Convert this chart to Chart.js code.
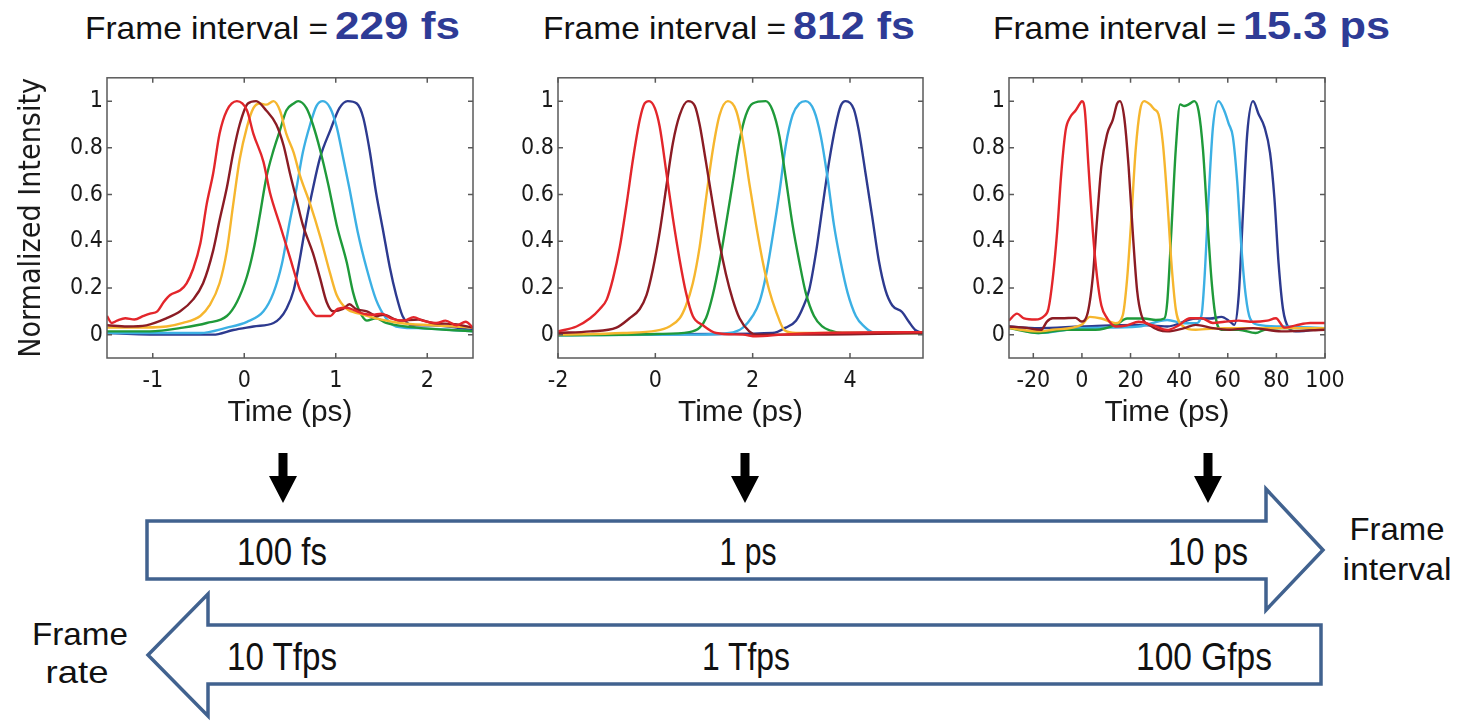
<!DOCTYPE html>
<html lang="en">
<head>
<meta charset="UTF-8">
<title>Frame interval</title>
<script src="https://cdn.jsdelivr.net/npm/chart.js"></script>
<style>
  body { margin: 0; background: #fff; }
  #wrap { position: relative; width: 1475px; height: 721px; overflow: hidden; }
  #wrap svg { position: absolute; left: 0; top: 0; }
  canvas { position: absolute; top: 60px; }
</style>
</head>
<body>
<div id="wrap">
  <svg width="1475" height="721" font-family="'Liberation Sans', Arial, sans-serif" fill="#111">
    <!-- panel titles -->
    <text x="85" y="39" font-size="32" textLength="243" lengthAdjust="spacingAndGlyphs">Frame interval =</text>
    <text x="335" y="39" font-size="38" font-weight="bold" fill="#2e3b96" textLength="125" lengthAdjust="spacingAndGlyphs">229 fs</text>
    <text x="543" y="39" font-size="32" textLength="243" lengthAdjust="spacingAndGlyphs">Frame interval =</text>
    <text x="793" y="39" font-size="38" font-weight="bold" fill="#2e3b96" textLength="122" lengthAdjust="spacingAndGlyphs">812 fs</text>
    <text x="993" y="39" font-size="32" textLength="243" lengthAdjust="spacingAndGlyphs">Frame interval =</text>
    <text x="1243" y="39" font-size="38" font-weight="bold" fill="#2e3b96" textLength="147" lengthAdjust="spacingAndGlyphs">15.3 ps</text>

    <!-- small down arrows -->
    <polygon points="278.5,453 287.5,453 287.5,476 297,476 283,503 269,476 278.5,476" fill="#000"/>
    <polygon points="740.5,453 749.5,453 749.5,476 759,476 745,503 731,476 740.5,476" fill="#000"/>
    <polygon points="1203.5,453 1212.5,453 1212.5,476 1222,476 1208,503 1194,476 1203.5,476" fill="#000"/>

    <!-- frame interval arrow -->
    <polygon points="147,521 1266,521 1266,489 1323,550 1266,610 1266,579 147,579" fill="#fff" stroke="#41628f" stroke-width="3.5" stroke-linejoin="miter"/>
    <!-- frame rate arrow -->
    <polygon points="1321,625 208,625 208,594 148,655 208,716 208,684 1321,684" fill="#fff" stroke="#41628f" stroke-width="3.5" stroke-linejoin="miter"/>

    <g font-size="38" text-anchor="middle">
      <text x="282" y="565" textLength="90" lengthAdjust="spacingAndGlyphs">100 fs</text>
      <text x="748" y="565" textLength="57" lengthAdjust="spacingAndGlyphs">1 ps</text>
      <text x="1208" y="565" textLength="80" lengthAdjust="spacingAndGlyphs">10 ps</text>
      <text x="282" y="670" textLength="110" lengthAdjust="spacingAndGlyphs">10 Tfps</text>
      <text x="746" y="670" textLength="88" lengthAdjust="spacingAndGlyphs">1 Tfps</text>
      <text x="1204" y="670" textLength="136" lengthAdjust="spacingAndGlyphs">100 Gfps</text>
    </g>
    <g font-size="32" text-anchor="middle">
      <text x="1397" y="540" textLength="95" lengthAdjust="spacingAndGlyphs">Frame</text>
      <text x="1397" y="580" textLength="109" lengthAdjust="spacingAndGlyphs">interval</text>
      <text x="80" y="645" textLength="96" lengthAdjust="spacingAndGlyphs">Frame</text>
      <text x="77" y="683" textLength="63" lengthAdjust="spacingAndGlyphs">rate</text>
    </g>
  </svg>
  <canvas id="c1" width="490" height="380" style="left:0"></canvas>
  <canvas id="c2" width="460" height="380" style="left:490px"></canvas>
  <canvas id="c3" width="475" height="380" style="left:950px"></canvas>
</div>

<script>
// tick labels
const yTicks = [0, 0.2, 0.4, 0.6, 0.8, 1];
const p1XTicks = [-1, 0, 1, 2];
const p2XTicks = [-2, 0, 2, 4];
const p3XTicks = [-20, 0, 20, 40, 60, 80, 100];

// panel 1 : 229 fs  -- [time ps, normalized intensity]
const p1Red = [[-1.5,0.08],[-1.45,0.05],[-1.39,0.06],[-1.3,0.07],[-1.2,0.065],[-1.1,0.08],[-1.03,0.09],[-0.95,0.1],[-0.88,0.14],[-0.81,0.17],[-0.70,0.19],[-0.63,0.22],[-0.56,0.28],[-0.48,0.39],[-0.41,0.56],[-0.34,0.69],[-0.27,0.86],[-0.19,0.96],[-0.08,1.0],[0.03,0.96],[0.10,0.86],[0.21,0.74],[0.28,0.61],[0.39,0.47],[0.50,0.33],[0.61,0.19],[0.72,0.11],[0.79,0.08],[0.94,0.08],[1.02,0.11],[1.12,0.115],[1.2,0.105],[1.3,0.09],[1.4,0.085],[1.5,0.09],[1.6,0.07],[1.75,0.06],[1.85,0.075],[1.95,0.06],[2.1,0.05],[2.2,0.06],[2.32,0.04],[2.42,0.055],[2.5,0.03]];
const p1DarkRed = [[-1.5,0.04],[-1.28,0.035],[-1.07,0.04],[-0.85,0.07],[-0.70,0.10],[-0.56,0.15],[-0.45,0.22],[-0.34,0.36],[-0.27,0.49],[-0.19,0.63],[-0.12,0.78],[-0.05,0.90],[0.04,0.99],[0.13,1.0],[0.24,0.96],[0.35,0.90],[0.43,0.81],[0.50,0.69],[0.57,0.58],[0.64,0.47],[0.75,0.35],[0.83,0.24],[0.90,0.14],[0.97,0.10],[1.08,0.11],[1.15,0.13],[1.22,0.11],[1.34,0.10],[1.45,0.08],[1.52,0.085],[1.70,0.06],[1.9,0.065],[2.06,0.05],[2.3,0.045],[2.5,0.03]];
const p1Orange = [[-1.5,0.03],[-1.21,0.03],[-0.85,0.035],[-0.67,0.05],[-0.48,0.08],[-0.38,0.125],[-0.27,0.22],[-0.19,0.36],[-0.12,0.56],[-0.05,0.75],[0.03,0.89],[0.10,0.97],[0.17,0.99],[0.24,0.985],[0.32,1.0],[0.39,0.96],[0.46,0.86],[0.54,0.78],[0.61,0.68],[0.72,0.56],[0.83,0.42],[0.94,0.26],[1.01,0.17],[1.12,0.11],[1.26,0.09],[1.44,0.07],[1.70,0.05],[2.06,0.04],[2.5,0.03]];
const p1Green = [[-1.5,0.014],[-1.03,0.014],[-0.67,0.03],[-0.41,0.05],[-0.19,0.08],[-0.08,0.14],[0.03,0.25],[0.10,0.36],[0.17,0.51],[0.24,0.67],[0.32,0.79],[0.39,0.875],[0.46,0.96],[0.54,0.99],[0.59,1.0],[0.68,0.97],[0.75,0.90],[0.83,0.79],[0.92,0.64],[1.01,0.47],[1.12,0.31],[1.19,0.18],[1.26,0.10],[1.34,0.06],[1.44,0.07],[1.55,0.05],[1.88,0.03],[2.5,0.014]];
const p1LightBlue = [[-1.5,0.007],[-0.85,0.007],[-0.48,0.007],[-0.19,0.03],[0.03,0.055],[0.21,0.10],[0.32,0.18],[0.41,0.30],[0.50,0.49],[0.57,0.625],[0.64,0.78],[0.72,0.90],[0.79,0.98],[0.86,1.0],[0.94,0.97],[1.01,0.89],[1.08,0.76],[1.15,0.625],[1.24,0.44],[1.34,0.28],[1.44,0.15],[1.55,0.07],[1.66,0.035],[1.88,0.028],[2.24,0.021],[2.5,0.014]];
const p1DarkBlue = [[-1.5,0.007],[-0.85,0],[-0.34,0],[-0.12,0.02],[0.10,0.035],[0.32,0.05],[0.39,0.07],[0.46,0.11],[0.54,0.19],[0.61,0.33],[0.68,0.49],[0.75,0.625],[0.83,0.76],[0.94,0.875],[1.04,0.97],[1.13,1.0],[1.23,0.99],[1.30,0.93],[1.37,0.79],[1.44,0.61],[1.52,0.44],[1.59,0.29],[1.66,0.17],[1.73,0.08],[1.84,0.04],[2.06,0.04],[2.5,0.02]];

// panel 2 : 812 fs
const p2Red = [[-2,0.014],[-1.62,0.035],[-1.34,0.07],[-1.14,0.11],[-1.0,0.15],[-0.87,0.24],[-0.73,0.375],[-0.59,0.56],[-0.46,0.75],[-0.32,0.92],[-0.22,0.99],[-0.13,1.0],[-0.01,0.97],[0.09,0.89],[0.23,0.69],[0.36,0.50],[0.50,0.32],[0.63,0.18],[0.77,0.08],[0.98,0.04],[1.25,0.007],[1.80,0],[2.07,-0.007],[2.61,0],[3.43,0.007],[5.5,0.011]];
const p2DarkRed = [[-2,0.007],[-1.34,0.014],[-0.80,0.03],[-0.53,0.07],[-0.32,0.11],[-0.18,0.17],[-0.05,0.28],[0.09,0.44],[0.23,0.64],[0.36,0.82],[0.50,0.94],[0.67,1.0],[0.81,0.98],[0.91,0.90],[1.04,0.74],[1.18,0.56],[1.32,0.39],[1.45,0.26],[1.59,0.15],[1.73,0.07],[1.93,0.014],[2.07,0],[2.75,0],[5.5,0.007]];
const p2Orange = [[-2,0],[-0.66,0.007],[0.02,0.017],[0.29,0.035],[0.50,0.07],[0.63,0.125],[0.77,0.22],[0.91,0.375],[1.04,0.58],[1.18,0.79],[1.32,0.94],[1.49,1.0],[1.66,0.96],[1.80,0.83],[1.93,0.65],[2.07,0.47],[2.20,0.32],[2.34,0.19],[2.48,0.10],[2.65,0.02],[2.89,0.007],[5.5,0.007]];
const p2Green = [[-2,-0.003],[0.02,0.003],[0.70,0.011],[0.91,0.03],[1.04,0.07],[1.18,0.17],[1.32,0.31],[1.45,0.47],[1.59,0.65],[1.73,0.83],[1.86,0.94],[2.0,0.99],[2.27,1.0],[2.41,0.96],[2.55,0.85],[2.68,0.67],[2.82,0.47],[2.96,0.31],[3.09,0.18],[3.26,0.08],[3.43,0.035],[3.60,0.017],[3.84,0.007],[5.5,0.007]];
const p2LightBlue = [[-2,-0.003],[0.70,0],[1.52,0.007],[1.80,0.03],[2.0,0.08],[2.14,0.14],[2.27,0.25],[2.41,0.42],[2.55,0.61],[2.68,0.81],[2.82,0.94],[2.96,0.99],[3.09,1.0],[3.26,0.96],[3.40,0.85],[3.54,0.67],[3.67,0.47],[3.81,0.31],[3.95,0.18],[4.12,0.08],[4.29,0.035],[4.46,0.011],[4.80,0.007],[5.5,0.007]];
const p2DarkBlue = [[-2,0],[1.38,0.003],[2.41,0.007],[2.68,0.03],[2.89,0.06],[3.02,0.11],[3.16,0.19],[3.30,0.35],[3.43,0.54],[3.57,0.74],[3.71,0.90],[3.81,0.98],[3.91,1.0],[4.08,0.965],[4.18,0.875],[4.32,0.69],[4.46,0.50],[4.59,0.32],[4.73,0.19],[4.87,0.125],[5.07,0.097],[5.21,0.055],[5.34,0.02],[5.48,0.007]];

// panel 3 : 15.3 ps
const p3Red = [[-30,0.06],[-26.7,0.09],[-23.8,0.07],[-19.1,0.065],[-15.5,0.08],[-13.8,0.11],[-12.0,0.24],[-10.2,0.44],[-8.5,0.69],[-6.7,0.875],[-4.9,0.93],[-2.6,0.96],[-0.8,0.99],[0,1.0],[1.2,0.96],[2.7,0.72],[4.5,0.44],[6.2,0.25],[8.0,0.125],[10.4,0.07],[13.9,0.035],[18.6,0.04],[23.3,0.055],[29.2,0.04],[35.1,0.02],[39.8,0.04],[44.5,0.07],[49.2,0.07],[53.9,0.05],[58.6,0.055],[64.5,0.06],[70.4,0.055],[76.2,0.06],[79.8,0.07],[83.3,0.03],[88.0,0.04],[93.9,0.05],[100,0.05]];
const p3DarkRed = [[-30,0.035],[-23.8,0.03],[-16.7,0.021],[-14.4,0.056],[-12.0,0.07],[-8.5,0.07],[-2.6,0.072],[-0.2,0.056],[2.1,0.083],[4.5,0.25],[6.2,0.49],[8.0,0.72],[10.4,0.86],[12.7,0.92],[14.5,0.99],[15.6,1.0],[17.4,0.93],[19.2,0.72],[20.9,0.44],[22.7,0.19],[24.5,0.083],[28.0,0.04],[35.1,0.014],[42.1,0.028],[46.8,0.042],[53.9,0.028],[60.9,0.021],[70.4,0.028],[82.1,0.014],[100,0.021]];
const p3Orange = [[-30,0.028],[-17.9,0.014],[-12.0,0.021],[-0.2,0.042],[3.3,0.076],[8.0,0.069],[13.9,0.049],[16.8,0.083],[18.6,0.24],[20.4,0.51],[22.1,0.79],[23.9,0.96],[25.6,1.0],[28.0,0.986],[29.8,0.965],[31.5,0.944],[33.3,0.82],[35.1,0.58],[36.8,0.31],[38.6,0.11],[40.9,0.042],[46.8,0.021],[58.6,0.028],[70.4,0.028],[100,0.028]];
const p3Green = [[-30,0.028],[-17.9,0.007],[-6.1,0.021],[5.6,0.021],[13.9,0.042],[18.6,0.069],[25.6,0.069],[30.4,0.063],[33.9,0.069],[35.1,0.139],[36.8,0.444],[38.6,0.792],[40.4,0.986],[42.1,0.979],[43.9,0.986],[46.2,1.0],[48.0,0.958],[49.8,0.792],[51.5,0.514],[53.3,0.236],[55.1,0.069],[57.4,0.021],[64.5,0.021],[71.5,0.007],[75.1,0.021],[82.1,0.028],[100,0.028]];
const p3LightBlue = [[-30,0.035],[-17.9,0.007],[-0.2,0.028],[23.3,0.035],[35.1,0.063],[42.1,0.049],[46.8,0.049],[49.2,0.083],[50.4,0.236],[52.1,0.583],[53.9,0.889],[56.2,1.0],[58.6,0.958],[60.4,0.903],[62.1,0.847],[63.9,0.653],[65.6,0.375],[67.4,0.167],[69.2,0.069],[72.7,0.042],[82.1,0.035],[100,0.028]];
const p3DarkBlue = [[-30,0.035],[-17.9,0.028],[-0.2,0.035],[23.3,0.042],[35.1,0.035],[46.8,0.069],[52.7,0.069],[57.4,0.076],[60.9,0.056],[62.7,0.042],[64.5,0.167],[66.2,0.51],[68.0,0.86],[70.4,1.0],[72.7,0.944],[75.1,0.889],[77.4,0.778],[79.2,0.583],[80.9,0.306],[82.7,0.111],[85.1,0.028],[88.0,0.014],[100,0.028]];

// line colours, first one is drawn on top
const lineColors = ['#e3262b', '#8b1c24', '#f6b62e', '#1f9a3a', '#3cb0e4', '#2d3a8f'];

// pick a condensed face if there is one, and size text to the widths in the picture
const mctx = document.createElement('canvas').getContext('2d');
function textW(txt, px, fam) { mctx.font = px + 'px ' + fam; return mctx.measureText(txt).width; }
function hasFont(name) {
  const s = 'Normalized Intensity 0123456789';
  return textW(s, 40, 'monospace') !== textW(s, 40, '"' + name + '", monospace');
}
const narrowName = ['Liberation Sans Narrow', 'DejaVu Sans Condensed'].find(hasFont);
const tickFam = narrowName ? `"${narrowName}", "Liberation Sans", sans-serif` : '"Liberation Sans", Arial, sans-serif';
const plainFam = '"Liberation Sans", Arial, sans-serif';
function fitSize(txt, fam, w, maxPx) { return Math.min(maxPx, 100 * w / textW(txt, 100, fam)); }

const tickSize = Math.max(23, fitSize('0.8', tickFam, 27, 25));
const yTitleSize = fitSize('Normalized Intensity', tickFam, 280, 36);
const xTitleSize = fitSize('Time (ps)', plainFam, 125, 30);

Chart.defaults.font.family = tickFam;
Chart.defaults.color = '#1a1a1a';

// box + inward tick marks, matlab style
const framePlugin = {
  id: 'frame',
  afterDatasetsDraw(chart) {
    const { ctx, chartArea: a, scales: { x, y } } = chart;
    ctx.save();
    ctx.strokeStyle = '#5a5a5a';
    ctx.lineWidth = 1.5;
    ctx.strokeRect(a.left, a.top, a.right - a.left, a.bottom - a.top);
    ctx.beginPath();
    x.ticks.forEach(t => {
      const px = x.getPixelForValue(t.value);
      ctx.moveTo(px, a.bottom); ctx.lineTo(px, a.bottom - 5);
      ctx.moveTo(px, a.top); ctx.lineTo(px, a.top + 5);
    });
    y.ticks.forEach(t => {
      const py = y.getPixelForValue(t.value);
      ctx.moveTo(a.left, py); ctx.lineTo(a.left + 5, py);
      ctx.moveTo(a.right, py); ctx.lineTo(a.right - 5, py);
    });
    ctx.stroke();
    ctx.restore();
  }
};

function makeChart(id, series, xMin, xMax, xTicks, yWidth, padRight, yTitle) {
  new Chart(document.getElementById(id), {
    type: 'line',
    data: {
      datasets: series.map((s, i) => ({
        data: s.map(p => ({ x: p[0], y: p[1] })),
        borderColor: lineColors[i],
        borderWidth: 2.4,
        pointRadius: 0,
        cubicInterpolationMode: 'monotone',
        fill: false
      }))
    },
    options: {
      responsive: false,
      animation: false,
      layout: { padding: { top: 10, right: padRight, left: 0, bottom: 0 } },
      plugins: { legend: { display: false }, tooltip: { enabled: false } },
      scales: {
        x: {
          type: 'linear', min: xMin, max: xMax,
          grid: { display: false, drawTicks: false }, border: { display: false },
          afterBuildTicks: s => { s.ticks = xTicks.map(v => ({ value: v })); },
          afterFit: s => { s.height = 82; },
          ticks: { font: { size: tickSize }, padding: 9, autoSkip: false, maxRotation: 0, callback: v => String(v) },
          title: { display: true, text: 'Time (ps)', font: { size: xTitleSize, family: plainFam },
                   padding: { top: 0, bottom: Math.max(0, 27 - 0.6 * xTitleSize) } }
        },
        y: {
          min: -0.1, max: 1.1,
          grid: { display: false, drawTicks: false }, border: { display: false },
          afterBuildTicks: s => { s.ticks = yTicks.map(v => ({ value: v })); },
          afterFit: s => { s.width = yWidth; },
          ticks: { font: { size: tickSize }, padding: 4, callback: v => String(+v.toFixed(1)) },
          title: { display: !!yTitle, text: yTitle || '', font: { size: yTitleSize },
                   padding: { top: Math.max(0, 32 - 0.6 * yTitleSize), bottom: 0 } }
        }
      }
    },
    plugins: [framePlugin]
  });
}

makeChart('c1', [p1Red, p1DarkRed, p1Orange, p1Green, p1LightBlue, p1DarkBlue], -1.5, 2.5, p1XTicks, 107, 17, 'Normalized Intensity');
makeChart('c2', [p2Red, p2DarkRed, p2Orange, p2Green, p2LightBlue, p2DarkBlue], -2, 5.5, p2XTicks, 68, 27, '');
makeChart('c3', [p3Red, p3DarkRed, p3Orange, p3Green, p3LightBlue, p3DarkBlue], -30, 100, p3XTicks, 59, 100, '');
</script>
</body>
</html>
